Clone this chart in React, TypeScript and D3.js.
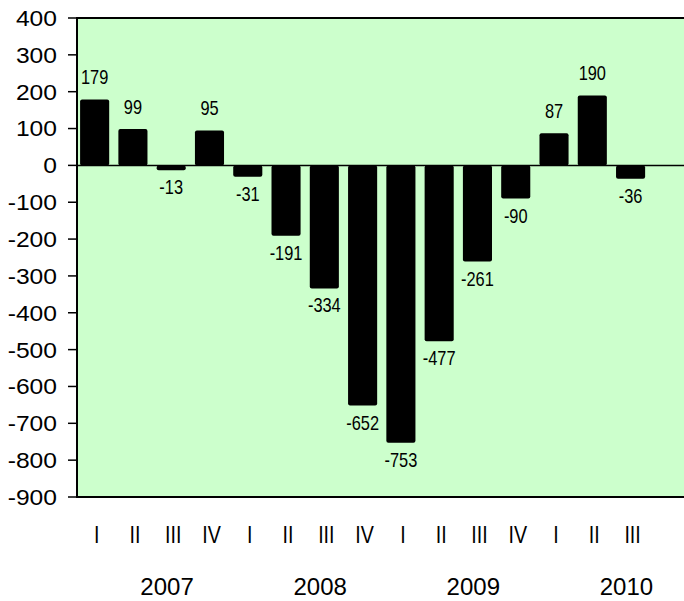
import React, { useRef, useEffect } from "react";
import * as d3 from "d3";

// quarterly values, 2007 Q1 .. 2010 Q3
const quarters = ["I", "II", "III", "IV", "I", "II", "III", "IV", "I", "II", "III", "IV", "I", "II", "III"];
const values = [179, 99, -13, 95, -31, -191, -334, -652, -753, -477, -261, -90, 87, 190, -36];
const years = ["2007", "2008", "2009", "2010"];
const yTicks = [400, 300, 200, 100, 0, -100, -200, -300, -400, -500, -600, -700, -800, -900];

const App = () => {
  const svgRef = useRef<SVGSVGElement>(null);

  useEffect(() => {
    const width = 684;
    const height = 601;
    const left = 77;
    const right = 690;
    const top = 18;
    const bottom = 497;

    const svg = d3.select(svgRef.current).attr("width", width).attr("height", height);
    svg.selectAll("*").remove();

    // 16 slots: the chart leaves room for a 4th quarter of 2010
    const slots = d3.range(16);
    const x = d3.scaleBand<number>().domain(slots).range([75.5, 688]).paddingInner(0.24).paddingOuter(0.12);
    const y = d3.scaleLinear().domain([-900, 400]).range([bottom, top]);

    // plot background
    svg
      .append("rect")
      .attr("x", left)
      .attr("y", top)
      .attr("width", right - left)
      .attr("height", bottom - top)
      .attr("fill", "#ccffcc");

    // bars
    svg
      .selectAll(".bar")
      .data(values)
      .join("rect")
      .attr("class", "bar")
      .attr("x", (d, i) => x(i)!)
      .attr("width", x.bandwidth())
      .attr("y", (d) => y(Math.max(0, d)))
      .attr("height", (d) => Math.abs(y(d) - y(0)))
      .attr("rx", 2)
      .attr("fill", "#000");

    // zero line
    svg
      .append("line")
      .attr("x1", left)
      .attr("x2", right)
      .attr("y1", y(0))
      .attr("y2", y(0))
      .attr("stroke", "#000")
      .attr("stroke-width", 1.5);

    // frame: left, top, bottom
    svg
      .append("path")
      .attr("d", `M${right},${top}H${left}V${bottom}H${right}`)
      .attr("fill", "none")
      .attr("stroke", "#000")
      .attr("stroke-width", 2);

    // y ticks
    const yAxis = svg.append("g");
    yAxis
      .selectAll("line")
      .data(yTicks)
      .join("line")
      .attr("x1", 68)
      .attr("x2", left)
      .attr("y1", (d) => y(d))
      .attr("y2", (d) => y(d))
      .attr("stroke", "#000")
      .attr("stroke-width", 1.5);
    yAxis
      .selectAll("g")
      .data(yTicks)
      .join("g")
      .attr("transform", (d) => `translate(57, ${y(d)}) scale(1.12, 1)`)
      .append("text")
      .attr("text-anchor", "end")
      .attr("dy", "0.36em")
      .attr("font-family", "'Liberation Sans', Arial, sans-serif")
      .attr("font-size", 22)
      .attr("fill", "#000")
      .text((d) => d);

    // value labels
    svg
      .selectAll(".vlabel")
      .data(values)
      .join("g")
      .attr("class", "vlabel")
      .attr("transform", (d, i) => {
        const cx = x(i)! + x.bandwidth() / 2;
        const ty = d >= 0 ? y(d) - 15 : y(d) + 24;
        return `translate(${cx}, ${ty}) scale(0.82, 1)`;
      })
      .append("text")
      .attr("text-anchor", "middle")
      .attr("font-family", "'Liberation Sans', Arial, sans-serif")
      .attr("font-size", 20)
      .attr("fill", "#000")
      .text((d) => d);

    // quarter labels
    svg
      .selectAll(".qlabel")
      .data(quarters)
      .join("g")
      .attr("class", "qlabel")
      .attr("transform", (d, i) => `translate(${x(i)! + x.bandwidth() / 2 + 2}, 543) scale(0.82, 1)`)
      .append("text")
      .attr("text-anchor", "middle")
      .attr("font-family", "'Liberation Sans', Arial, sans-serif")
      .attr("font-size", 24)
      .attr("fill", "#000")
      .text((d) => d);

    // year labels, centred under each group of four quarters
    svg
      .selectAll(".ylabel")
      .data(years)
      .join("text")
      .attr("class", "ylabel")
      .attr("x", (d, i) => (x(i * 4)! + x(i * 4 + 3)! + x.bandwidth()) / 2 + 15)
      .attr("y", 595)
      .attr("text-anchor", "middle")
      .attr("font-family", "'Liberation Sans', Arial, sans-serif")
      .attr("font-size", 24)
      .attr("fill", "#000")
      .text((d) => d);
  }, []);

  return (
    <div>
      <svg ref={svgRef} style={{ position: "absolute", left: 0, top: 0 }}></svg>
    </div>
  );
};

export default App;
